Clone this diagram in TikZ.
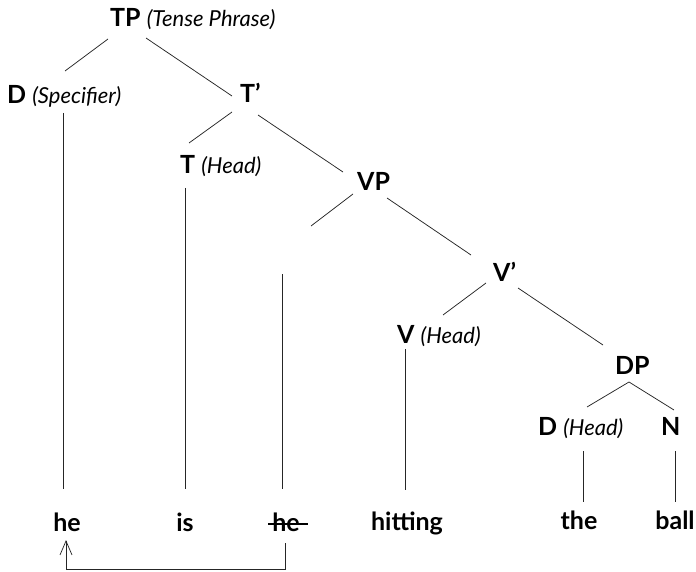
\documentclass[tikz,border=0pt]{standalone}
\usepackage{fontspec}
\setmainfont{Lato}
\usetikzlibrary{calc,arrows.meta}
\newcommand{\parenit}[1]{{\fontsize{22}{24}\selectfont\mdseries\itshape #1}}
\begin{document}
\begin{tikzpicture}[x=1pt,y=-1pt,
  lab/.style={anchor=base west,inner sep=0pt,font=\fontsize{25}{28}\selectfont\bfseries},
  word/.style={anchor=base,inner sep=0pt,font=\fontsize{25}{28}\selectfont\bfseries},
  edge/.style={line width=0.75pt,draw=black!85}]
\useasboundingbox (0,0) rectangle (696,572);
% labels
\node[lab] (TP) at (110,27) {TP \parenit{(Tense Phrase)}};
\node[lab] (DS) at (7,104) {D \parenit{(Specifier)}};
\node[lab] (Tb) at (240,103) {T’};
\node[lab] (TH) at (180,174) {T \parenit{(Head)}};
\node[lab] (VP) at (357,191) {VP};
\node[lab] (Vb) at (493,281) {V’};
\node[lab] (VH) at (397,343) {V \parenit{(Head)}};
\node[lab] (DP) at (615,374) {DP};
\node[lab] (DH) at (538,435) {D \parenit{(Head)}};
\node[lab] (N) at (661,435) {N};
\coordinate (spec) at (311,226);
% words
\node[word] (he) at (67,531) {he};
\node[word] (is) at (185,531) {is};
\node[word] (he2) at (286,531) {he};
\node[word] (hit) at (407,530) {hitting};
\node[word] (the) at (579,529) {the};
\node[word] (ball) at (675,529) {ball};
% branches
\draw[edge] ($(TP.base west)+(-2,12)$) -- ($(DS.base west)+(58,-33)$);
\draw[edge] ($(TP.base west)+(36,11)$) -- ($(Tb.base west)+(-8,-7)$);
\draw[edge] ($(Tb.base west)+(-8,9)$) -- ($(TH.base west)+(9,-31)$);
\draw[edge] ($(Tb.base west)+(18,12)$) -- ($(VP.base west)+(-14,-19)$);
\draw[edge] ($(VP.base west)+(-4,3)$) -- (spec);
\draw[edge] ($(VP.base west)+(30,7)$) -- ($(Vb.base west)+(-22,-26)$);
\draw[edge] ($(Vb.base west)+(-7,2)$) -- ($(VH.base west)+(46,-28)$);
\draw[edge] ($(Vb.base west)+(25,7)$) -- ($(DP.base west)+(-12,-29)$);
\draw[edge] ($(DP.base west)+(14,8)$) -- ($(DH.base west)+(49,-28)$);
\draw[edge] ($(DP.base west)+(14,8)$) -- ($(N.base west)+(13,-25)$);
% verticals
\draw[edge] ($(DS.base west)+(56,9)$) -- ($(he.base)+(-4,-42)$);
\draw[edge] ($(TH.base west)+(5,14)$) -- ($(is.base)+(0,-42)$);
\draw[edge] ($(he2.base)+(-4,-257)$) -- ($(he2.base)+(-4,-42)$);
\draw[edge] ($(VH.base west)+(8,6)$) -- ($(hit.base)+(-2,-40)$);
\draw[edge] ($(DH.base west)+(45,16)$) -- ($(the.base)+(4,-27)$);
\draw[edge] ($(N.base west)+(14,16)$) -- ($(ball.base)+(0,-27)$);
% strike-through
\draw[line width=1.2pt] ($(he2.base)+(-18,-7)$) -- ($(he2.base)+(22,-7)$);
% movement arrow
\draw[edge,-{Straight Barb[length=14pt,width=12pt,line width=0.75pt]}] ($(he2.base)+(-1,12)$) |- ($(he.base)+(-1,38)$) -- ($(he.base)+(-1,9)$);
\end{tikzpicture}
\end{document}
